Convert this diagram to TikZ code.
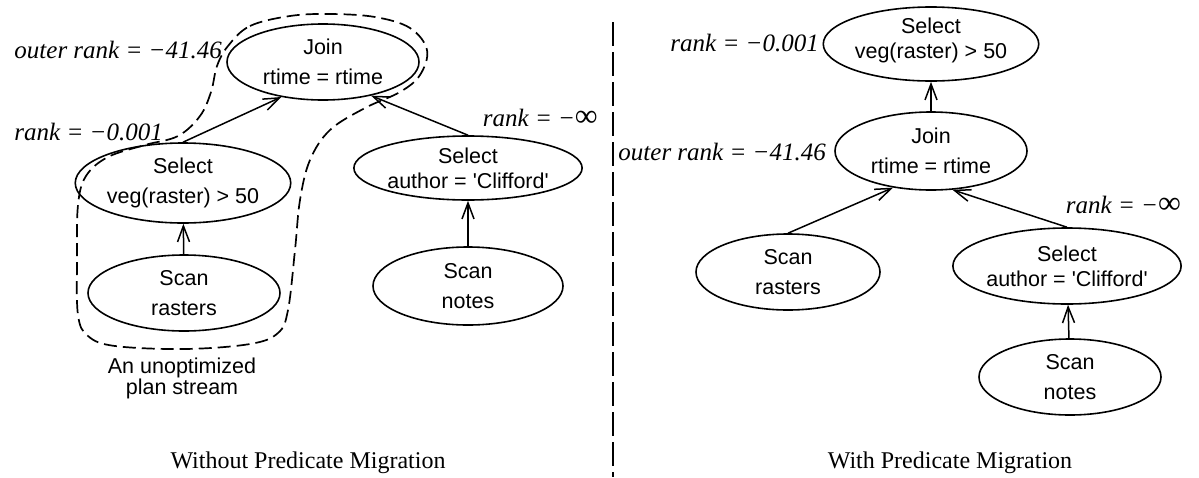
\documentclass[tikz,border=0pt]{standalone}
\usepackage{fontspec}
\setmainfont{Liberation Serif}
\newfontfamily\opsans{Liberation Sans}
\usetikzlibrary{shapes.geometric,arrows.meta}

% large upright infinity sign for the rank labels
\newcommand{\bigInf}{{\upshape\fontsize{32}{30}\selectfont ∞}}
% extra depth below a node's last line, lifting its text a little
\newcommand{\liftText}{\rule[-11pt]{0pt}{0pt}}

\tikzset{
  op/.style={ellipse, draw, line width=1.6pt, inner sep=0pt, align=center,
    font=\opsans\fontsize{21.5}{30}\selectfont},
  optight/.style={op, font=\opsans\fontsize{21.5}{25}\selectfont},
  conn/.style={line width=1.5pt, -{Straight Barb[length=16pt,width=12pt,line width=1.5pt]}},
  rlabel/.style={font=\itshape\fontsize{25}{30}\selectfont, inner sep=0pt},
  caption/.style={font=\fontsize{24}{28}\selectfont, inner sep=0pt},
  note/.style={font=\opsans\fontsize{21.5}{21}\selectfont, align=center, inner sep=0pt},
  streamline/.style={line width=1.7pt, dash pattern=on 13pt off 6pt},
  divider/.style={line width=1.6pt, dash pattern=on 24pt off 6pt}
}

\begin{document}
\begin{tikzpicture}[x=1pt,y=-1pt]
\useasboundingbox (0,0) rectangle (1199,477);

% ---------- plan without predicate migration ----------
\node[op, minimum width=192pt, minimum height=76pt] (joinL) at (323,62) {Join\\rtime = rtime};
\node[op, minimum width=190pt, minimum height=80pt] (selL) at (183,183) {Select\\veg(raster) > 50};
\node[op, minimum width=192pt, minimum height=76pt] (scanL) at (184,293) {Scan\\rasters};
\node[optight, minimum width=190pt, minimum height=64pt] (selLc) at (468,168) {Select\\author = 'Clifford'};
\node[op, minimum width=190pt, minimum height=78pt] (scanLn) at (468,286) {Scan\\notes};

\draw[conn] (scanL) -- (selL);
\draw[conn] (selL.north) -- (joinL.220);
\draw[conn] (scanLn) -- (selLc);
\draw[conn] (selLc.north) -- (joinL.325);

\node[rlabel, anchor=east] (orL) at (222,50) {outer rank = −41.46};
\node[rlabel, anchor=east] (rkL) at (163,132) {rank = −0.001};
\node[rlabel, anchor=east] (riL) at (598,118) {rank = −\bigInf};

% boundary of the plan stream
\draw[streamline] plot[smooth cycle, tension=0.6] coordinates {
  (228,46) (250,26) (290,16) (330,14) (375,17) (410,28) (427,50) (420,75)
  (400,92) (365,108) (330,130) (310,160) (300,200) (295,250) (288,310)
  (278,333) (250,344) (185,349) (115,346) (88,336) (78,315) (77,260)
  (78,205) (86,176) (108,157) (145,145) (178,136) (200,116) (211,92) (217,66)
};
\node[note] (stream) at (182,378) {An unoptimized\\plan stream};

\node[caption] (capL) at (308,463) {Without Predicate Migration};

% ---------- divider ----------
\coordinate (divTop) at (613,22);
\coordinate (divBot) at (613,477);
\draw[divider] (divTop) -- (divBot);

% ---------- plan with predicate migration ----------
\node[optight, minimum width=190pt, minimum height=74pt] (selR) at (931,44) {Select\\veg(raster) > 50\liftText};
\node[op, minimum width=192pt, minimum height=78pt] (joinR) at (931,151) {Join\\rtime = rtime};
\node[op, minimum width=184pt, minimum height=76pt] (scanR) at (788,272) {Scan\\rasters};
\node[optight, minimum width=188pt, minimum height=76pt] (selRc) at (1067,266) {Select\\author = 'Clifford'};
\node[op, minimum width=182pt, minimum height=76pt] (scanRn) at (1070,377) {Scan\\notes};

\draw[conn] (joinR) -- (selR);
\draw[conn] (scanR.north) -- (joinR.224);
\draw[conn] (selRc.north) -- (joinR.299);
\draw[conn] (scanRn) -- (selRc);

\node[rlabel, anchor=east] (rkR) at (819,43) {rank = −0.001};
\node[rlabel, anchor=east] (orR) at (826,152) {outer rank = −41.46};
\node[rlabel, anchor=east] (riR) at (1181,205) {rank = −\bigInf};

\node[caption] (capR) at (950,463) {With Predicate Migration};
\end{tikzpicture}
\end{document}
